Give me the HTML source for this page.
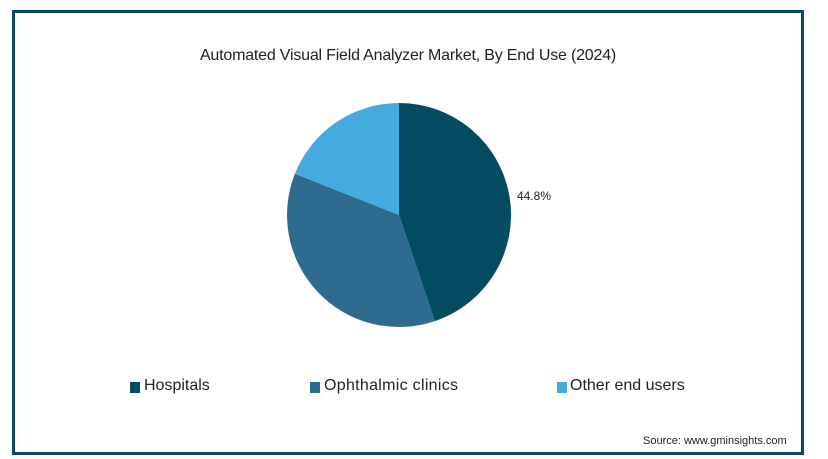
<!DOCTYPE html>
<html><head><style>
body{margin:0;background:#fff;width:828px;height:459px;overflow:hidden;font-family:"Liberation Sans",sans-serif;}
.box{position:absolute;left:12px;top:10px;width:786px;height:439px;border:3px solid #0d4a5e;background:#fff;}
.t{position:absolute;white-space:nowrap;color:#222;}
.sq{position:absolute;width:10px;height:11px;}
</style></head><body>
<div class="box"></div>
<div class="t" style="left:0;width:816px;text-align:center;top:47px;font-size:16px;letter-spacing:-0.2px;">Automated Visual Field Analyzer Market, By End Use (2024)</div>
<svg style="position:absolute;left:0;top:0" width="828" height="459">
<path d="M399,215 L399,103 A112,112 0 0 1 434.9,321.1 Z" fill="#034b61"/>
<path d="M399,215 L434.9,321.1 A112,112 0 0 1 294.9,173.8 Z" fill="#2e6b8e"/>
<path d="M399,215 L294.9,173.8 A112,112 0 0 1 399,103 Z" fill="#45abde"/>
</svg>
<div class="t" style="left:517px;top:189px;font-size:12px;">44.8%</div>
<div class="sq" style="left:130px;top:382px;background:#034b61"></div>
<div class="t" style="left:144px;top:377px;font-size:16px;">Hospitals</div>
<div class="sq" style="left:310px;top:382px;background:#2e6b8e"></div>
<div class="t" style="left:324px;top:377px;font-size:16px;letter-spacing:0.3px;">Ophthalmic clinics</div>
<div class="sq" style="left:557px;top:382px;background:#45abde"></div>
<div class="t" style="left:570px;top:377px;font-size:16px;">Other end users</div>
<div class="t" style="left:643px;top:435px;font-size:11px;">Source: www.gminsights.com</div>
</body></html>
